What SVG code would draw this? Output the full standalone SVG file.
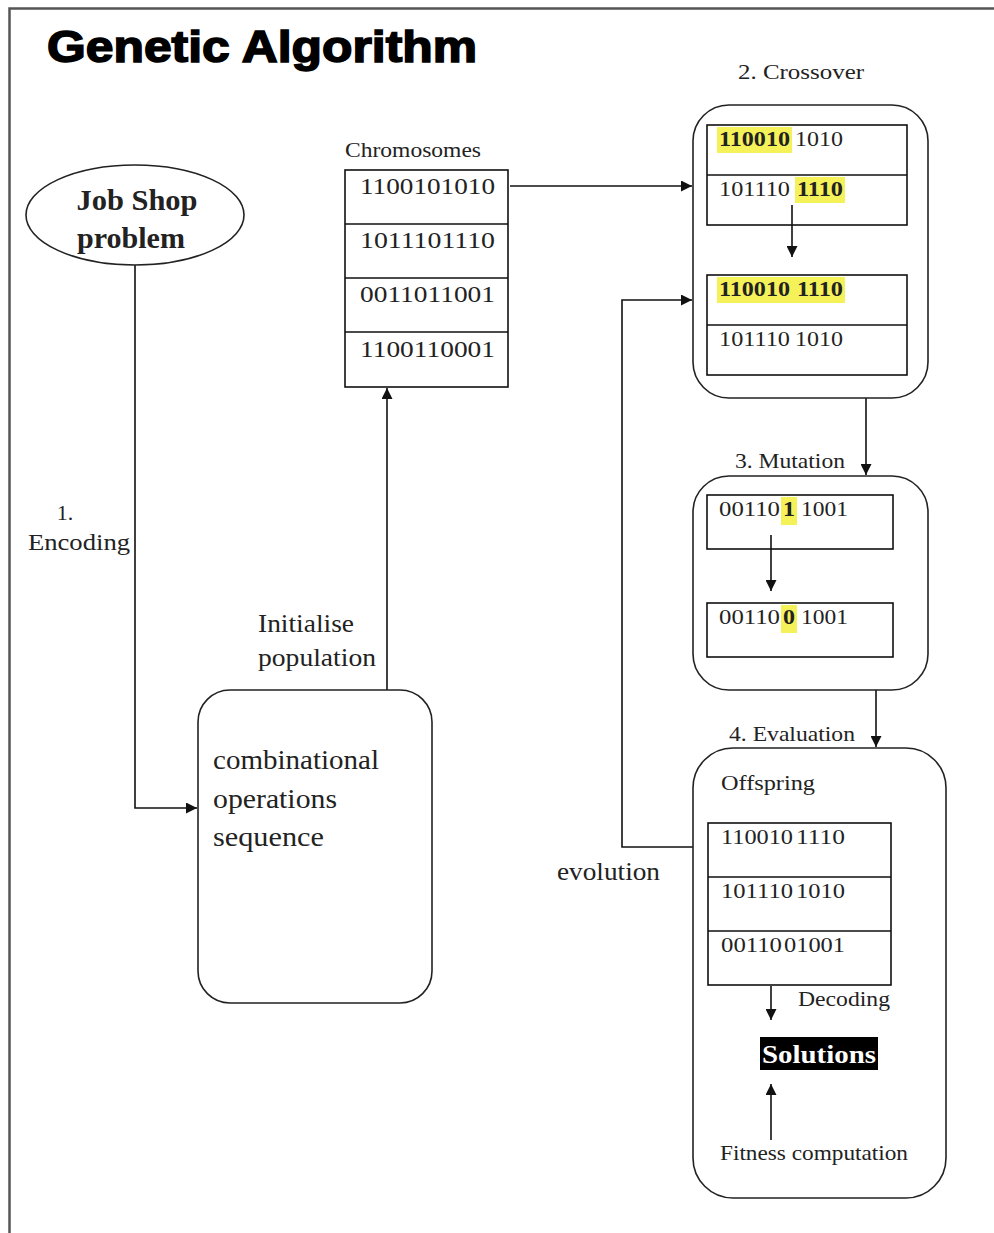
<svg xmlns="http://www.w3.org/2000/svg" width="994" height="1233" viewBox="0 0 994 1233">
<defs>
<marker id="ah" viewBox="0 0 10 10" refX="10" refY="5" markerWidth="11" markerHeight="11" markerUnits="userSpaceOnUse" orient="auto"><path d="M0,0 L10,5 L0,10 z" fill="#111"/></marker>
<style>
.s{font-family:"Liberation Serif","Times New Roman",serif;fill:#222}
.b{font-weight:bold}
.box{fill:#fff;stroke:#222;stroke-width:1.6}
.cell{fill:none;stroke:#111;stroke-width:1.6}
.ln{fill:none;stroke:#111;stroke-width:1.6}
.hl{fill:#f3ee3c;opacity:0.85}
</style>
</defs>
<rect width="994" height="1233" fill="#fff"/>
<path d="M9.5,1233 V8.5 H994" fill="none" stroke="#555" stroke-width="2.5"/>
<text x="47" y="62" font-family="Liberation Sans, Arial, sans-serif" font-weight="900" font-size="44" fill="#000" stroke="#000" stroke-width="1.6" textLength="430" lengthAdjust="spacingAndGlyphs">Genetic Algorithm</text>

<g id="connectors">
<path class="ln" d="M135,265 V808 H197" marker-end="url(#ah)"/>
<path class="ln" d="M387,690 V388" marker-end="url(#ah)"/>
<path class="ln" d="M510,186 H692" marker-end="url(#ah)"/>
<path class="ln" d="M693,847 H622 V300 H692" marker-end="url(#ah)"/>
<path class="ln" d="M866,398 V475" marker-end="url(#ah)"/>
<path class="ln" d="M876,690 V747" marker-end="url(#ah)"/>
</g>

<g id="jobshop">
<ellipse cx="135" cy="215" rx="109" ry="50" class="box"/>
<text class="s b" x="137" y="210" font-size="29" text-anchor="middle" textLength="121" lengthAdjust="spacingAndGlyphs">Job Shop</text>
<text class="s b" x="131" y="248" font-size="29" text-anchor="middle" textLength="108" lengthAdjust="spacingAndGlyphs">problem</text>
</g>

<g id="encoding-label">
<text class="s" x="65" y="520" font-size="22" text-anchor="middle">1.</text>
<text class="s" x="28" y="550" font-size="23" textLength="102" lengthAdjust="spacingAndGlyphs">Encoding</text>
</g>

<g id="init-label">
<text class="s" x="258" y="632" font-size="26" textLength="96" lengthAdjust="spacingAndGlyphs">Initialise</text>
<text class="s" x="258" y="666" font-size="26" textLength="118" lengthAdjust="spacingAndGlyphs">population</text>
</g>

<g id="combinational">
<rect x="198" y="690" width="234" height="313" rx="32" class="box"/>
<text class="s" x="213" y="769" font-size="27" textLength="166" lengthAdjust="spacingAndGlyphs">combinational</text>
<text class="s" x="213" y="808" font-size="27" textLength="124" lengthAdjust="spacingAndGlyphs">operations</text>
<text class="s" x="213" y="846" font-size="27" textLength="111" lengthAdjust="spacingAndGlyphs">sequence</text>
</g>

<g id="chromosomes">
<text class="s" x="345" y="157" font-size="21" textLength="136" lengthAdjust="spacingAndGlyphs">Chromosomes</text>
<rect x="345" y="170" width="163" height="217" class="cell"/>
<path class="cell" d="M345,224 H508 M345,278 H508 M345,332 H508"/>
<text class="s" x="360" y="194" font-size="23" textLength="135" lengthAdjust="spacingAndGlyphs">1100101010</text>
<text class="s" x="360" y="248" font-size="23" textLength="135" lengthAdjust="spacingAndGlyphs">1011101110</text>
<text class="s" x="360" y="302" font-size="23" textLength="135" lengthAdjust="spacingAndGlyphs">0011011001</text>
<text class="s" x="360" y="357" font-size="23" textLength="135" lengthAdjust="spacingAndGlyphs">1100110001</text>
</g>

<g id="crossover">
<text class="s" x="738" y="79" font-size="22" textLength="126" lengthAdjust="spacingAndGlyphs">2. Crossover</text>
<rect x="693" y="105" width="235" height="293" rx="36" class="box"/>
<rect class="hl" x="717" y="127" width="75" height="26"/>
<rect class="hl" x="795" y="177" width="50" height="26"/>
<rect class="hl" x="717" y="277" width="128" height="26"/>
<rect x="707" y="125" width="200" height="100" class="cell"/>
<path class="cell" d="M707,175 H907"/>
<rect x="707" y="275" width="200" height="100" class="cell"/>
<path class="cell" d="M707,325 H907"/>
<path class="ln" d="M792,205 V257" marker-end="url(#ah)"/>
<text class="s" font-size="22" y="146"><tspan class="b" x="719" textLength="71" lengthAdjust="spacingAndGlyphs">110010</tspan><tspan x="795" textLength="48" lengthAdjust="spacingAndGlyphs">1010</tspan></text>
<text class="s" font-size="22" y="196"><tspan x="719" textLength="71" lengthAdjust="spacingAndGlyphs">101110</tspan><tspan class="b" x="797" textLength="46" lengthAdjust="spacingAndGlyphs">1110</tspan></text>
<text class="s b" font-size="22" y="296"><tspan x="719" textLength="71" lengthAdjust="spacingAndGlyphs">110010</tspan><tspan x="797" textLength="46" lengthAdjust="spacingAndGlyphs">1110</tspan></text>
<text class="s" font-size="22" y="346"><tspan x="719" textLength="71" lengthAdjust="spacingAndGlyphs">101110</tspan><tspan x="795" textLength="48" lengthAdjust="spacingAndGlyphs">1010</tspan></text>
</g>

<g id="mutation">
<text class="s" x="735" y="468" font-size="22" textLength="110" lengthAdjust="spacingAndGlyphs">3. Mutation</text>
<rect x="693" y="476" width="235" height="214" rx="36" class="box"/>
<rect class="hl" x="781" y="497" width="16" height="28"/>
<rect class="hl" x="781" y="605" width="16" height="28"/>
<rect x="707" y="495" width="186" height="54" class="cell"/>
<rect x="707" y="603" width="186" height="54" class="cell"/>
<path class="ln" d="M771,535 V591" marker-end="url(#ah)"/>
<text class="s" font-size="22" y="516"><tspan x="719" textLength="61" lengthAdjust="spacingAndGlyphs">00110</tspan><tspan class="b" x="783" textLength="12" lengthAdjust="spacingAndGlyphs">1</tspan><tspan x="801" textLength="47" lengthAdjust="spacingAndGlyphs">1001</tspan></text>
<text class="s" font-size="22" y="624"><tspan x="719" textLength="61" lengthAdjust="spacingAndGlyphs">00110</tspan><tspan class="b" x="783" textLength="12" lengthAdjust="spacingAndGlyphs">0</tspan><tspan x="801" textLength="47" lengthAdjust="spacingAndGlyphs">1001</tspan></text>
</g>

<g id="evaluation">
<text class="s" x="729" y="741" font-size="22" textLength="126" lengthAdjust="spacingAndGlyphs">4. Evaluation</text>
<rect x="693" y="748" width="253" height="450" rx="40" class="box"/>
<text class="s" x="721" y="790" font-size="22" textLength="94" lengthAdjust="spacingAndGlyphs">Offspring</text>
<rect x="708" y="823" width="183" height="162" class="cell"/>
<path class="cell" d="M708,877 H891 M708,931 H891"/>
<text class="s" font-size="22" y="844"><tspan x="721" textLength="72" lengthAdjust="spacingAndGlyphs">110010</tspan><tspan x="796" textLength="49" lengthAdjust="spacingAndGlyphs">1110</tspan></text>
<text class="s" font-size="22" y="898"><tspan x="721" textLength="72" lengthAdjust="spacingAndGlyphs">101110</tspan><tspan x="796" textLength="49" lengthAdjust="spacingAndGlyphs">1010</tspan></text>
<text class="s" font-size="22" y="952"><tspan x="721" textLength="61" lengthAdjust="spacingAndGlyphs">00110</tspan><tspan x="784" textLength="61" lengthAdjust="spacingAndGlyphs">01001</tspan></text>
<path class="ln" d="M771,986 V1020" marker-end="url(#ah)"/>
<text class="s" x="798" y="1006" font-size="22" textLength="92" lengthAdjust="spacingAndGlyphs">Decoding</text>
<rect x="760" y="1037" width="118" height="33" fill="#000"/>
<text class="s b" x="762" y="1063" font-size="25" fill="#fff" style="fill:#fff" textLength="114" lengthAdjust="spacingAndGlyphs">Solutions</text>
<path class="ln" d="M771,1140 V1084" marker-end="url(#ah)"/>
<text class="s" x="720" y="1160" font-size="22" textLength="188" lengthAdjust="spacingAndGlyphs">Fitness computation</text>
</g>

<g id="evolution-label">
<text class="s" x="557" y="880" font-size="26" textLength="103" lengthAdjust="spacingAndGlyphs">evolution</text>
</g>
</svg>
